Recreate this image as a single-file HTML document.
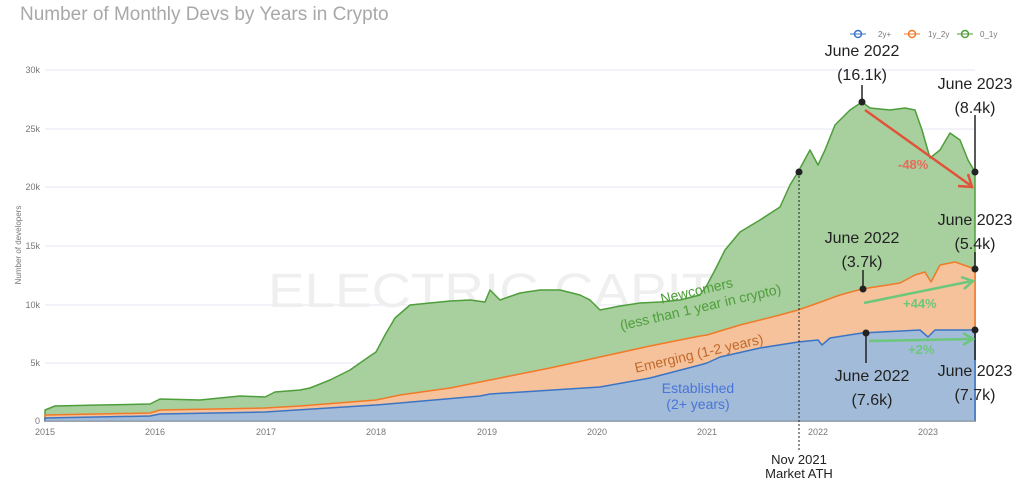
<!DOCTYPE html>
<html><head><meta charset="utf-8"><style>
body{margin:0;background:#fff;width:1024px;height:494px;overflow:hidden;font-family:"Liberation Sans",sans-serif}
</style></head><body>
<svg width="1024" height="494" viewBox="0 0 1024 494" xmlns="http://www.w3.org/2000/svg" font-family="Liberation Sans, sans-serif">
<text x="20" y="20" font-size="19" fill="#a8a8a8">Number of Monthly Devs by Years in Crypto</text>
<g stroke="#e6e6f0" stroke-width="1">
<line x1="45" y1="70" x2="975" y2="70"/><line x1="45" y1="129" x2="975" y2="129"/><line x1="45" y1="187" x2="975" y2="187"/><line x1="45" y1="246" x2="975" y2="246"/><line x1="45" y1="305" x2="975" y2="305"/><line x1="45" y1="363" x2="975" y2="363"/>
</g>
<g font-size="9" fill="#777" text-anchor="end">
<text x="40" y="73">30k</text><text x="40" y="132">25k</text><text x="40" y="190">20k</text><text x="40" y="249">15k</text><text x="40" y="308">10k</text><text x="40" y="366">5k</text><text x="40" y="424">0</text>
</g>
<text transform="translate(21,245) rotate(-90)" font-size="8" fill="#777" text-anchor="middle">Number of developers</text>
<text x="268" y="307" font-size="48" fill="#efefef" textLength="510" lengthAdjust="spacingAndGlyphs">ELECTRIC CAPITAL</text>
<polygon fill="#a8cf9e" stroke="#4e9e3a" stroke-width="1.5" stroke-linejoin="round" points="45,410 55,406 100,405 150,404 160,399 200,400 240,396 265,397 275,392 300,390 310,388 330,380 350,370 370,356 376,352 385,335 395,318 410,305 430,303 450,301 470,300 485,302 490,290 500,300 520,293 540,290 560,290 580,295 590,300 600,310 620,306 640,303 660,302 680,300 700,295 707,285 715,270 725,250 740,232 760,220 780,207 790,185 798,172 810,150 818,165 825,150 835,125 850,110 862,102 870,108 890,110 905,108 915,110 922,130 930,158 940,150 950,133 960,140 968,160 975,172 975,421 45,421"/>
<polygon fill="#f5c29c" stroke="#f07a28" stroke-width="1.5" stroke-linejoin="round" points="45,415 150,413 160,410 265,408 300,406 376,400 400,395 450,388 500,378 550,368 600,357 650,346 700,336 707,335 740,325 780,315 798,310 818,303 840,295 862,289 900,283 915,275 925,272 931,282 940,265 955,262 975,269 975,421 45,421"/>
<polygon fill="#a2bbd8" stroke="#3b74c4" stroke-width="1.5" stroke-linejoin="round" points="45,418 150,416 160,414 265,412 376,405 480,396 490,394 600,387 650,378 700,365 707,363 720,357 760,348 798,342 818,340 822,345 830,338 862,333 920,330 928,337 935,330 975,330 975,421 45,421"/>
<line x1="45" y1="421" x2="975" y2="421" stroke="#bbb"/>
<g font-size="9" fill="#777" text-anchor="middle">
<text x="45" y="435">2015</text><text x="155" y="435">2016</text><text x="266" y="435">2017</text><text x="376" y="435">2018</text><text x="487" y="435">2019</text><text x="597" y="435">2020</text><text x="707" y="435">2021</text><text x="818" y="435">2022</text><text x="928" y="435">2023</text>
</g>
<g font-size="8" fill="#777">
<circle cx="858" cy="34" r="3.5" fill="#fff" stroke="#3b74c4" stroke-width="1.5"/><line x1="850" y1="34" x2="866" y2="34" stroke="#3b74c4"/><text x="878" y="37">2y+</text>
<circle cx="912" cy="34" r="3.5" fill="#fff" stroke="#f07a28" stroke-width="1.5"/><line x1="904" y1="34" x2="920" y2="34" stroke="#f07a28"/><text x="928" y="37">1y_2y</text>
<circle cx="965" cy="34" r="3.5" fill="#fff" stroke="#4e9e3a" stroke-width="1.5"/><line x1="957" y1="34" x2="973" y2="34" stroke="#4e9e3a"/><text x="980" y="37">0_1y</text>
</g>
<line x1="799" y1="172" x2="799" y2="450" stroke="#222" stroke-dasharray="2,2"/>
<g stroke="#222" stroke-width="1.5">
<line x1="862" y1="102" x2="862" y2="85"/><line x1="975" y1="172" x2="975" y2="115"/>
<line x1="863" y1="289" x2="863" y2="270"/><line x1="975" y1="269" x2="975" y2="252"/>
<line x1="866" y1="333" x2="866" y2="363"/><line x1="975" y1="330" x2="975" y2="360"/>
</g>
<g fill="#222"><circle cx="799" cy="172" r="3.5"/><circle cx="862" cy="102" r="3.5"/><circle cx="975" cy="172" r="3.5"/><circle cx="863" cy="289" r="3.5"/><circle cx="975" cy="269" r="3.5"/><circle cx="866" cy="333" r="3.5"/><circle cx="975" cy="330" r="3.5"/></g>
<g stroke="#e0533a" stroke-width="2.5" fill="none"><line x1="865" y1="110" x2="970" y2="185"/><polyline points="958,186 972,187 968,174"/></g>
<text x="898" y="169" font-size="13" fill="#e86a5a" font-weight="bold">-48%</text>
<g stroke="#6cc77a" stroke-width="2.5" fill="none"><line x1="864" y1="303" x2="972" y2="281"/><polyline points="961,277 973,281 964,289"/><line x1="869" y1="341" x2="972" y2="339"/><polyline points="963,333 973,339 963,345"/></g>
<text x="903" y="308" font-size="13" fill="#6cc77a" font-weight="bold">+44%</text>
<text x="908" y="354" font-size="13" fill="#6cc77a" font-weight="bold">+2%</text>
<g font-size="16" fill="#222" text-anchor="middle">
<text x="862" y="56">June 2022</text><text x="862" y="80">(16.1k)</text>
<text x="975" y="89">June 2023</text><text x="975" y="113">(8.4k)</text>
<text x="862" y="243">June 2022</text><text x="862" y="267">(3.7k)</text>
<text x="975" y="225">June 2023</text><text x="975" y="249">(5.4k)</text>
<text x="872" y="381">June 2022</text><text x="872" y="405">(7.6k)</text>
<text x="975" y="376">June 2023</text><text x="975" y="400">(7.7k)</text>
</g>
<g font-size="13" fill="#222" text-anchor="middle"><text x="799" y="464">Nov 2021</text><text x="799" y="478">Market ATH</text></g>
<g font-size="14" fill="#4e9e3a" text-anchor="middle" transform="rotate(-13 700 305)"><text x="700" y="295">Newcomers</text><text x="700" y="312">(less than 1 year in crypto)</text></g>
<text x="700" y="358" font-size="14" fill="#c0692a" text-anchor="middle" transform="rotate(-13 700 358)">Emerging (1-2 years)</text>
<g font-size="14" fill="#4a74d8" text-anchor="middle"><text x="698" y="393">Established</text><text x="698" y="409">(2+ years)</text></g>
</svg>
</body></html>
